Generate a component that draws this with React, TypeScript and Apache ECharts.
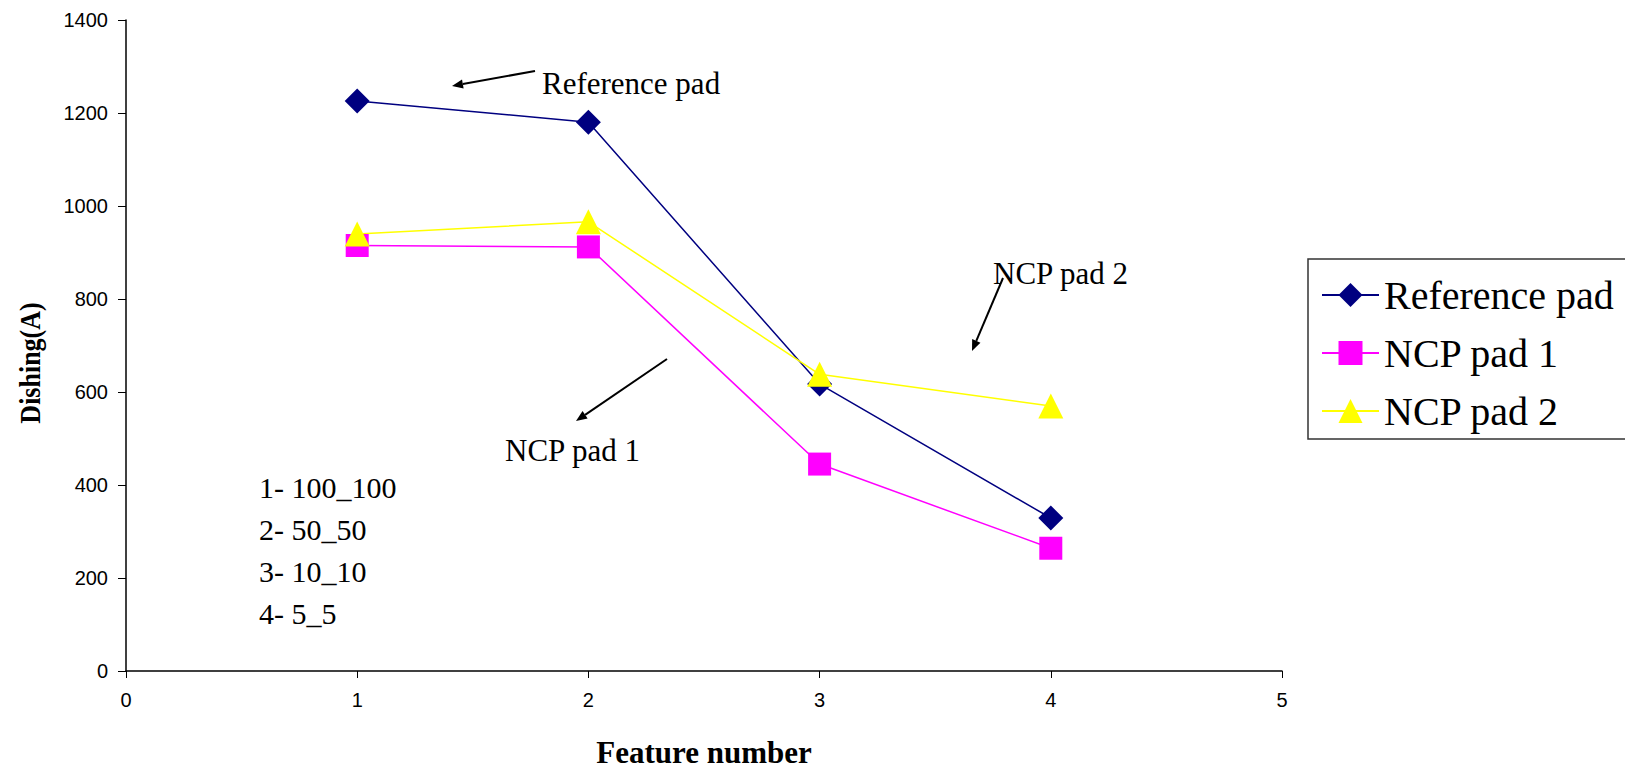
import React, { useEffect, useRef } from "react";
import * as echarts from "echarts";

const featureNumbers = [1, 2, 3, 4];
const referencePad = [1226, 1180, 617, 329];
const ncpPad1 = [915, 912, 445, 264];
const ncpPad2 = [940, 966, 638, 570];
const yTicks = { min: 0, max: 1400, interval: 200 };
const xTicks = { min: 0, max: 5, interval: 1 };
const featureLegend = ["1- 100_100", "2- 50_50", "3- 10_10", "4- 5_5"];
const seriesNames = ["Reference pad", "NCP pad 1", "NCP pad 2"];

const toPairs = (vals: number[]) => featureNumbers.map((x, i) => [x, vals[i]]);

function arrow(x1: number, y1: number, x2: number, y2: number) {
  const ang = Math.atan2(y2 - y1, x2 - x1);
  const len = 11;
  const hw = 4.5;
  const bx = x2 - len * Math.cos(ang);
  const by = y2 - len * Math.sin(ang);
  const px = -Math.sin(ang);
  const py = Math.cos(ang);
  return [
    {
      type: "line",
      shape: { x1, y1, x2: bx, y2: by },
      style: { stroke: "#000", lineWidth: 2 },
      silent: true,
    },
    {
      type: "polygon",
      shape: {
        points: [
          [x2, y2],
          [bx + px * hw, by + py * hw],
          [bx - px * hw, by - py * hw],
        ],
      },
      style: { fill: "#000" },
      silent: true,
    },
  ];
}

export default function App() {
  const ref = useRef<HTMLDivElement>(null);
  useEffect(() => {
    if (!ref.current) return;
    document.body.style.margin = "0";
    const chart = echarts.init(ref.current, null, { renderer: "svg", width: 1625, height: 773 });
    const serif = "Liberation Serif";
    const sans = "Liberation Sans";
    const txt = (text: string, x: number, y: number, size: number) => ({
      type: "text",
      x,
      y,
      style: {
        text,
        fontFamily: serif,
        fontSize: size,
        fill: "#000",
        verticalAlign: "middle",
      },
    });
    const option: any = {
      animation: false,
      backgroundColor: "#fff",
      grid: { left: 126, width: 1156, top: 20, height: 658, containLabel: false },
      xAxis: {
        type: "value",
        min: xTicks.min,
        max: xTicks.max,
        interval: xTicks.interval,
        splitLine: { show: false },
        axisLine: { lineStyle: { color: "#000", width: 1.5 } },
        axisTick: { length: 7, lineStyle: { color: "#000" } },
        axisLabel: { color: "#000", fontFamily: sans, fontSize: 20, margin: 19, formatter: (v: number) => String(v) },
        name: "Feature number",
        nameLocation: "middle",
        nameGap: 66,
        nameTextStyle: { color: "#000", fontFamily: serif, fontSize: 31, fontWeight: "bold" },
      },
      yAxis: {
        type: "value",
        min: yTicks.min,
        max: yTicks.max,
        interval: yTicks.interval,
        splitLine: { show: false },
        axisLine: { show: true, lineStyle: { color: "#000", width: 1.5 } },
        axisTick: { show: true, length: 8, lineStyle: { color: "#000" } },
        axisLabel: { color: "#000", fontFamily: sans, fontSize: 20, margin: 18, formatter: (v: number) => String(v) },
      },
      legend: {
        orient: "vertical",
        left: 1308,
        top: 259,
        padding: [16, 12, 8, 13],
        itemGap: 18,
        itemWidth: 57,
        itemHeight: 30,
        itemStyle: { borderWidth: 0 },
        textStyle: { color: "#000", fontFamily: serif, fontSize: 40 },
        borderColor: "#333",
        borderWidth: 1.5,
        backgroundColor: "#fff",
        data: seriesNames,
      },
      series: [
        {
          name: seriesNames[0],
          type: "line",
          data: toPairs(referencePad),
          symbol: "diamond",
          symbolSize: 25,
          itemStyle: { color: "#000080" },
          lineStyle: { color: "#000080", width: 1.5 },
        },
        {
          name: seriesNames[1],
          type: "line",
          data: toPairs(ncpPad1),
          symbol: "rect",
          symbolSize: 23,
          itemStyle: { color: "#FF00FF" },
          lineStyle: { color: "#FF00FF", width: 1.5 },
        },
        {
          name: seriesNames[2],
          type: "line",
          data: toPairs(ncpPad2),
          symbol: "triangle",
          symbolSize: 25,
          itemStyle: { color: "#FFFF00" },
          lineStyle: { color: "#FFFF00", width: 1.5 },
        },
      ],
      graphic: [
        {
          type: "text",
          x: 30,
          y: 363,
          rotation: Math.PI / 2,
          scaleY: 1.15,
          style: {
            text: "Dishing(A)",
            fontFamily: serif,
            fontWeight: "bold",
            fontSize: 26,
            fill: "#000",
            align: "center",
            verticalAlign: "middle",
          },
        },
        txt("Reference pad", 542, 83, 31),
        txt("NCP pad 1", 505, 450, 31),
        txt("NCP pad 2", 993, 273, 31),
        ...featureLegend.map((t, i) => txt(t, 259, 487 + i * 42, 30)),
        ...arrow(535, 71, 452, 86),
        ...arrow(667, 359, 576, 421),
        ...arrow(1003, 278, 972, 351),
      ],
    };
    chart.setOption(option);
    return () => chart.dispose();
  }, []);
  return <div ref={ref} style={{ width: 1625, height: 773, background: "#fff" }} />;
}
